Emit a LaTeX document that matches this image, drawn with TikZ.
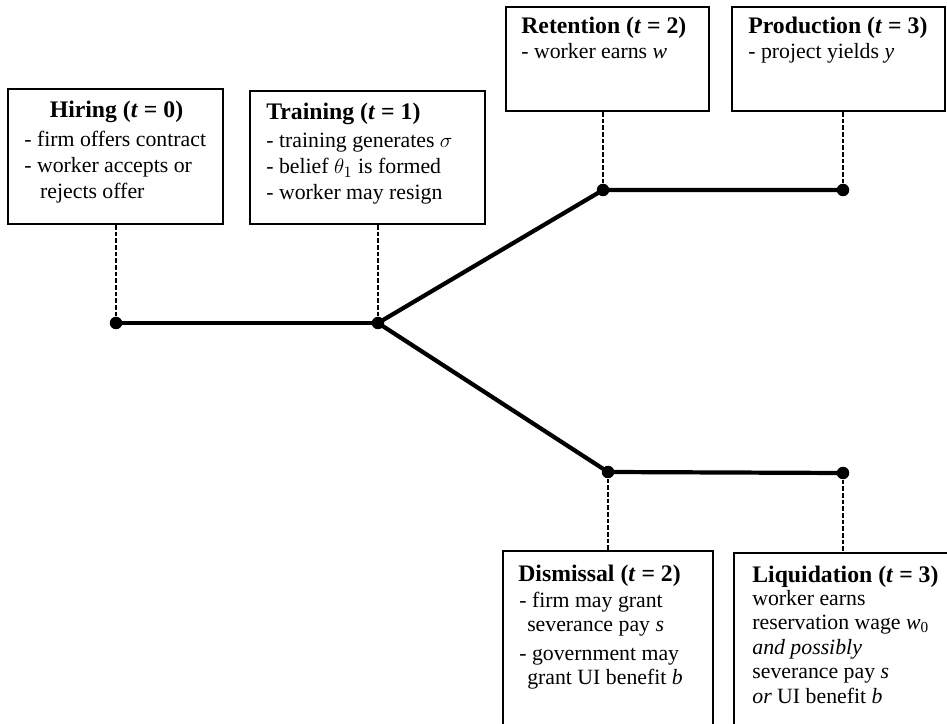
\documentclass[tikz,border=0pt]{standalone}
\usepackage{fontspec}
\setmainfont{Liberation Serif}
\usepackage{tikz}
\usetikzlibrary{positioning}

\begin{document}
\begin{tikzpicture}[
    every node/.style={align=left},
    stagebox/.style={draw, rectangle, line width=0.8pt, inner sep=0pt},
    title/.style={font=\fontsize{13.5}{16}\selectfont\bfseries, inner sep=0pt, anchor=base west},
    body/.style={font=\fontsize{12.4}{14.8}\selectfont, inner sep=0pt, anchor=base west},
    lowbody/.style={font=\fontsize{12.4}{13.6}\selectfont, inner sep=0pt, anchor=base west},
    dot/.style={circle, fill=black, inner sep=0pt, minimum size=0.25cm},
    branch/.style={line width=2.4pt},
    guide/.style={line width=0.9pt, dash pattern=on 2.6pt off 1.2pt},
]
\useasboundingbox (0,0) rectangle (18.94,14.46);
% Boxes at the top
\node[stagebox, minimum width=4.3cm, minimum height=2.7cm] (hiring) at (2.31,11.33) {};
\node[stagebox, minimum width=4.7cm, minimum height=2.66cm] (training) at (7.35,11.31) {};
\node[stagebox, minimum width=4.06cm, minimum height=2.08cm] (retention) at (12.15,13.28) {};
\node[stagebox, minimum width=4.26cm, minimum height=2.08cm] (production) at (16.77,13.28) {};
% Boxes at the bottom
\node[stagebox, minimum width=4.2cm, minimum height=3.84cm] (dismissal) at (12.16,1.52) {};
\node[stagebox, minimum width=4.52cm, minimum height=3.8cm] (liquidation) at (16.94,1.5) {};
% Texts (multi-line texts sit on their last line)
\node[title, anchor=base] (hiringtitle) at (2.33,12.1) {Hiring (\textit{t} = 0)};
\node[body] (hiringtext) at (0.48,10.48) {- firm offers contract\\- worker accepts or\\\hspace*{9pt}rejects offer};
\node[title] (trainingtitle) at (5.32,12.06) {Training (\textit{t} = 1)};
\node[body] (trainingtext) at (5.32,10.46) {- training generates $\sigma$\\- belief $\theta_1$ is formed\\- worker may resign};
\node[title] (retentiontitle) at (10.42,13.78) {Retention (\textit{t} = 2)};
\node[body] (retentiontext) at (10.42,13.28) {- worker earns \textit{w}};
\node[title] (productiontitle) at (14.96,13.78) {Production (\textit{t} = 3)};
\node[body] (productiontext) at (14.96,13.28) {- project yields \textit{y}};
\node[title] (dismissaltitle) at (10.36,2.84) {Dismissal (\textit{t} = 2)};
\node[lowbody] (dismissaltext) at (10.38,0.78) {- firm may grant\\\hspace*{4.5pt}severance pay \textit{s}\\[2.6pt]- government may\\\hspace*{4.5pt}grant UI benefit \textit{b}};
\node[title] (liquidationtitle) at (15.04,2.82) {Liquidation (\textit{t} = 3)};
\node[lowbody, font=\fontsize{12.4}{13.9}\selectfont] (liquidationtext) at (15.04,0.40) {worker earns\\reservation wage \textit{w}\textsubscript{0}\\\textit{and possibly}\\severance pay \textit{s}\\\textit{or} UI benefit \textit{b}};
% Time points
\node[dot] (t0) at (2.32,8.0) {};
\node[dot] (t1) at (7.56,8.0) {};
\node[dot] (ret) at (12.06,10.66) {};
\node[dot] (prod) at (16.86,10.66) {};
\node[dot] (dis) at (12.16,5.02) {};
\node[dot] (liq) at (16.86,5.0) {};
% Branches
\draw[branch] (t0.center) -- (t1.center);
\draw[branch] (t1.center) -- (ret.center) -- (prod.center);
\draw[branch] (t1.center) -- (dis.center) -- (liq.center);
% Dashed links to the boxes
\draw[guide] (t0) -- (t0 |- hiring.south);
\draw[guide] (t1) -- (t1 |- training.south);
\draw[guide] (ret) -- (ret |- retention.south);
\draw[guide] (prod) -- (prod |- production.south);
\draw[guide] (dis) -- (dis |- dismissal.north);
\draw[guide] (liq) -- (liq |- liquidation.north);
\end{tikzpicture}
\end{document}
